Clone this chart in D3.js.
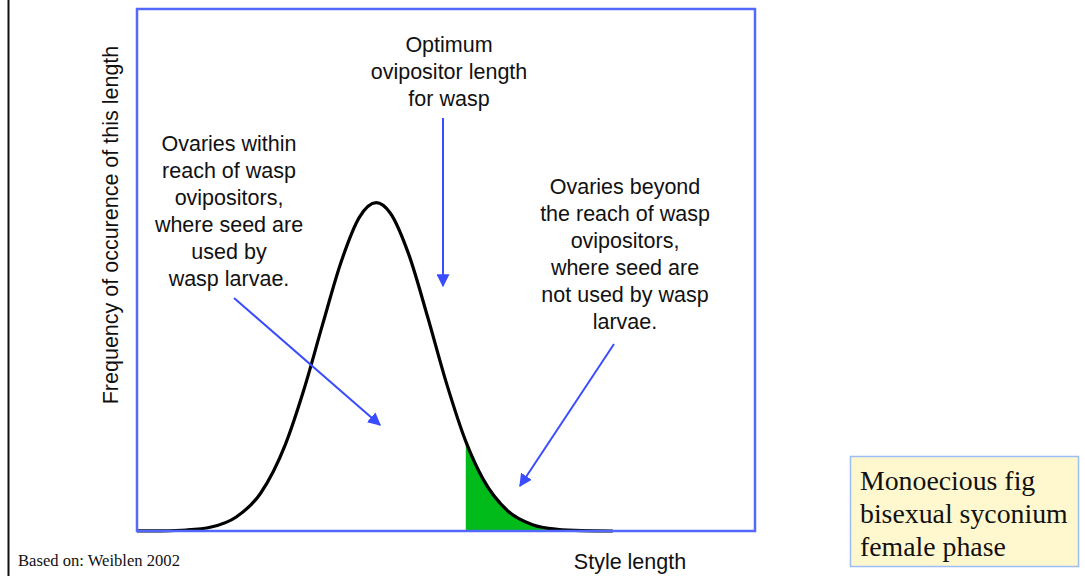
<!DOCTYPE html>
<html lang="en">
<head>
<meta charset="UTF-8">
<title>Monoecious fig - style length</title>
<script src="https://d3js.org/d3.v7.min.js"></script>
<style>
  html, body { margin: 0; padding: 0; background: #fff; }
  svg { display: block; }
  .sans { font-family: "Liberation Sans", Arial, Helvetica, sans-serif; fill: #111; }
  .serif { font-family: "Liberation Serif", "Times New Roman", serif; fill: #111; }
</style>
</head>
<body>
<div id="chart"></div>
<script>
// Style length (0-100 across the frame) and relative frequency
const styleLength = [0, 4, 8, 12, 16, 20, 24, 27, 30, 33, 36, 38.7, 41, 44, 47, 50, 53.2, 56, 60, 64, 68, 72, 77];
const frequency   = [0.0001, 0.0006, 0.003, 0.012, 0.042, 0.115, 0.263, 0.43, 0.627, 0.818, 0.956, 1.0, 0.968, 0.841, 0.654, 0.455, 0.273, 0.158, 0.061, 0.019, 0.005, 0.0011, 0];
// start of the shaded part (styles beyond reach of wasp ovipositors)
const beyondReach = 53.2;

const xLabel = "Style length";
const yLabel = "Frequency of occurence of this length";
const noteLeft = ["Ovaries within", "reach of wasp", "ovipositors,", "where seed are", "used by", "wasp larvae."];
const noteTop = ["Optimum", "ovipositor length", "for wasp"];
const noteRight = ["Ovaries beyond", "the reach of wasp", "ovipositors,", "where seed are", "not used by wasp", "larvae."];
const boxLines = ["Monoecious fig", "bisexual syconium", "female phase"];
const source = "Based on: Weiblen 2002";

const W = 1085, H = 576;
const frame = { left: 137, top: 9, right: 755, bottom: 531 };
const fs = 21.5;

const svg = d3.select("#chart").append("svg")
  .attr("width", W).attr("height", H);

const x = d3.scaleLinear().domain([0, 100]).range([frame.left, frame.right]);
const y = d3.scaleLinear().domain([0, 1.59]).range([frame.bottom, frame.top]);

const points = styleLength.map((s, i) => ({ s, f: frequency[i] }));

// left border line of the slide
svg.append("line")
  .attr("x1", 8.5).attr("x2", 8.5).attr("y1", 0).attr("y2", H)
  .attr("stroke", "#111").attr("stroke-width", 2);

// shaded area
const area = d3.area()
  .x(d => x(d.s)).y0(y(0)).y1(d => y(d.f))
  .curve(d3.curveMonotoneX);
svg.append("path")
  .datum(points.filter(d => d.s >= beyondReach))
  .attr("d", area)
  .attr("fill", "#00bb1a");

// curve
const line = d3.line()
  .x(d => x(d.s)).y(d => y(d.f))
  .curve(d3.curveMonotoneX);
svg.append("path")
  .datum(points)
  .attr("d", line)
  .attr("fill", "none")
  .attr("stroke", "#000")
  .attr("stroke-width", 3.2);

// frame
svg.append("rect")
  .attr("x", frame.left).attr("y", frame.top)
  .attr("width", frame.right - frame.left).attr("height", frame.bottom - frame.top)
  .attr("fill", "none").attr("stroke", "#5468ff").attr("stroke-width", 2.5);

// axis titles
svg.append("text").attr("class", "sans")
  .attr("transform", "translate(118,225) rotate(-90)")
  .attr("text-anchor", "middle").attr("font-size", fs)
  .text(yLabel);
svg.append("text").attr("class", "sans")
  .attr("x", 630).attr("y", 569)
  .attr("text-anchor", "middle").attr("font-size", fs)
  .text(xLabel);

function block(lines, cx, y0) {
  const t = svg.append("text").attr("class", "sans")
    .attr("text-anchor", "middle").attr("font-size", fs);
  lines.forEach((l, i) => {
    t.append("tspan").attr("x", cx).attr("y", y0 + i * 27).text(l);
  });
}
block(noteTop, 449, 52);
block(noteLeft, 229, 151);
block(noteRight, 625, 194);

// arrows
const defs = svg.append("defs");
defs.append("marker")
  .attr("id", "head").attr("viewBox", "0 0 10 10")
  .attr("refX", 9).attr("refY", 5)
  .attr("markerWidth", 6.5).attr("markerHeight", 6.5)
  .attr("markerUnits", "strokeWidth")
  .attr("orient", "auto")
  .append("path").attr("d", "M0,0 L10,5 L0,10 Z").attr("fill", "#3a4cff");

const arrows = [
  [234, 298, 380, 425],
  [443, 118, 443, 286],
  [614, 344, 520, 486]
];
arrows.forEach(a => {
  svg.append("line")
    .attr("x1", a[0]).attr("y1", a[1]).attr("x2", a[2]).attr("y2", a[3])
    .attr("stroke", "#3a4cff").attr("stroke-width", 2)
    .attr("marker-end", "url(#head)");
});

// source note
svg.append("text").attr("class", "serif")
  .attr("x", 18).attr("y", 566).attr("font-size", 16.6)
  .text(source);

// label box
svg.append("rect")
  .attr("x", 850.5).attr("y", 456.5).attr("width", 228).attr("height", 110)
  .attr("fill", "#fff8cf").attr("stroke", "#9dbdf5").attr("stroke-width", 1.5);
const bt = svg.append("text").attr("class", "serif").attr("font-size", 27.8);
boxLines.forEach((l, i) => {
  bt.append("tspan").attr("x", 860).attr("y", 490 + i * 33).text(l);
});
</script>
</body>
</html>
